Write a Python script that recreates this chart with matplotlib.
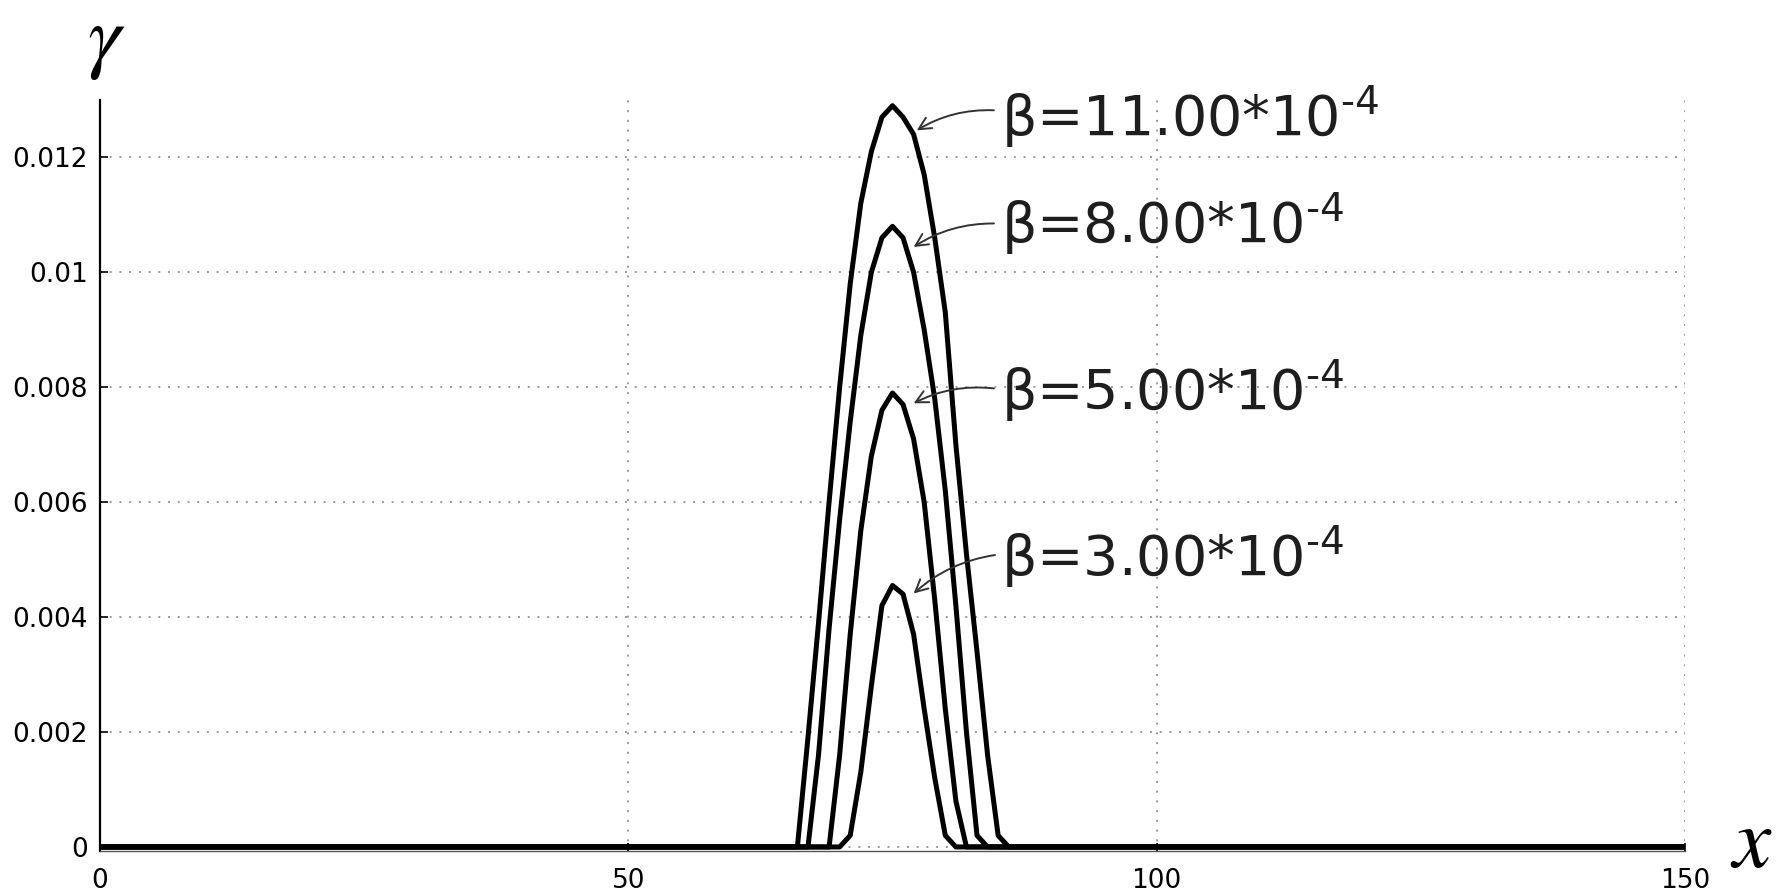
import matplotlib
matplotlib.use("Agg")
import matplotlib.pyplot as plt

# x samples (hump region sampled at integers, flat zero elsewhere)
x_pts = [0, 65, 66, 67, 68, 69, 70, 71, 72, 73, 74, 75, 76, 77, 78, 79, 80, 81, 82, 83, 84, 85, 86, 150]

g_b11 = [0, 0, 0, 0.0019, 0.0039, 0.0060, 0.0080, 0.0098, 0.0112, 0.0121, 0.0127, 0.0129,
         0.0127, 0.0124, 0.0117, 0.0106, 0.0093, 0.0070, 0.0051, 0.0034, 0.0016, 0.0002, 0, 0]
g_b8 = [0, 0, 0, 0, 0.0016, 0.0038, 0.0057, 0.0074, 0.0089, 0.0100, 0.0106, 0.0108,
        0.0106, 0.0100, 0.0090, 0.0078, 0.0062, 0.0042, 0.0020, 0.0002, 0, 0, 0, 0]
g_b5 = [0, 0, 0, 0, 0, 0, 0.0016, 0.0037, 0.0055, 0.0068, 0.0076, 0.0079,
        0.0077, 0.0071, 0.0060, 0.0043, 0.0024, 0.0008, 0, 0, 0, 0, 0, 0]
g_b3 = [0, 0, 0, 0, 0, 0, 0, 0.0002, 0.0013, 0.0028, 0.0042, 0.00455,
        0.0044, 0.0037, 0.0024, 0.0012, 0.0002, 0, 0, 0, 0, 0, 0, 0]

labels = [r"β=11.00*10$^{\text{-}4}$", r"β=8.00*10$^{\text{-}4}$",
          r"β=5.00*10$^{\text{-}4}$", r"β=3.00*10$^{\text{-}4}$"]
label_y = [0.01239, 0.01053, 0.00762, 0.00473]
arrow_tip = [(77.3, 0.01247), (77.0, 0.01044), (77.0, 0.00772), (77.0, 0.00441)]
arrow_tail = [(84.6, 0.01282), (84.6, 0.01085), (84.6, 0.00798), (84.7, 0.00508)]

xticks = [0, 50, 100, 150]
yticks = [0, 0.002, 0.004, 0.006, 0.008, 0.01, 0.012]
ytick_labels = ["0", "0.002", "0.004", "0.006", "0.008", "0.01", "0.012"]

fig = plt.figure(figsize=(17.83, 8.92), dpi=100)
ax = fig.add_axes([0.0561, 0.046, 0.945 - 0.0561, 0.888 - 0.046])

for g in [g_b11, g_b8, g_b5, g_b3]:
    ax.plot(x_pts, g, color='black', lw=3.6, solid_joinstyle='round', zorder=3)

for lab, ly, tip, tail in zip(labels, label_y, arrow_tip, arrow_tail):
    ax.text(85.3, ly, lab, fontsize=40, va='baseline', ha='left', color='#1e1e1e')
    ax.annotate("", xy=tip, xytext=tail,
                arrowprops=dict(arrowstyle='->', color='#333333', lw=1.4,
                                mutation_scale=22, connectionstyle='arc3,rad=0.15',
                                shrinkA=0, shrinkB=0))

ax.set_xlim(0, 150)
ax.set_ylim(-0.00007, 0.013)
ax.set_xticks(xticks)
ax.set_xticklabels([str(t) for t in xticks])
ax.set_yticks(yticks)
ax.set_yticklabels(ytick_labels)
ax.tick_params(direction='in', length=6, width=1.2, labelsize=19, colors='black')
ax.tick_params(axis='x', pad=12)
ax.tick_params(axis='y', pad=9)

ax.grid(True, color='#999999', linestyle=(0, (1, 4)), lw=1.4)
ax.spines['top'].set_visible(False)
ax.spines['right'].set_visible(False)
ax.spines['left'].set_linewidth(1.6)
ax.spines['bottom'].set_linewidth(1.0)
ax.spines['bottom'].set_color('#555555')

fig.text(106 / 1783, 1 - 42 / 892, r"$\gamma$", fontsize=60, ha='center', va='center',
         math_fontfamily='stix')
fig.text(1751 / 1783, 1 - 843 / 892, r"$x$", fontsize=62, ha='center', va='center',
         math_fontfamily='stix')

fig.savefig("out.png", dpi=100)
